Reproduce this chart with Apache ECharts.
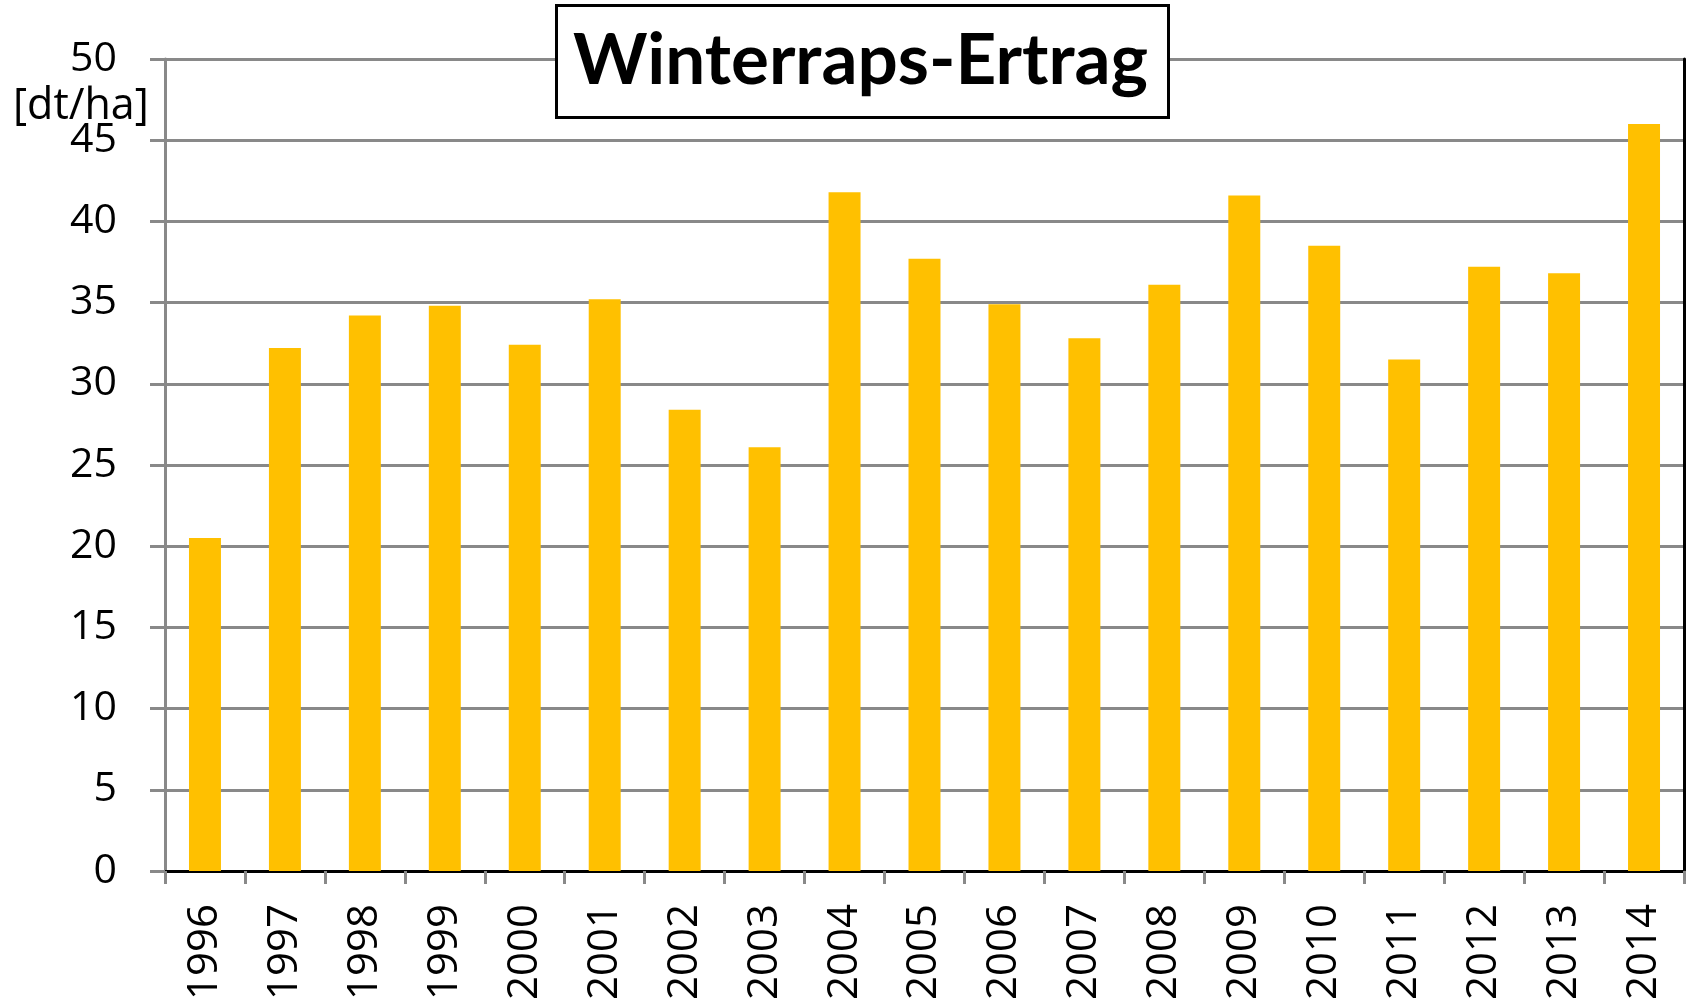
<!DOCTYPE html>
<html>
<head>
<meta charset="utf-8">
<script src="https://cdn.jsdelivr.net/npm/echarts@6/dist/echarts.min.js"></script>
<style>
html,body{margin:0;padding:0;background:#fff;}
#chart{width:1688px;height:1006px;}
</style>
</head>
<body>
<div id="chart"></div>
<script>
const titleText = 'Winterraps-Ertrag';
const unitText = '[dt/ha]';
const years = ['1996','1997','1998','1999','2000','2001','2002','2003','2004','2005','2006','2007','2008','2009','2010','2011','2012','2013','2014'];
const yields = [20.5, 32.2, 34.2, 34.8, 32.4, 35.2, 28.4, 26.1, 41.8, 37.7, 34.9, 32.8, 36.1, 41.6, 38.5, 31.5, 37.2, 36.8, 46.0];
const yMin = 0, yMax = 50, yStep = 5;

const FONT = '"Open Sans", "Noto Sans", sans-serif';
const GRAY = '#898989';

const chart = echarts.init(document.getElementById('chart'), null, {renderer: 'canvas'});
chart.setOption({
  backgroundColor: '#ffffff',
  animation: false,
  title: {
    text: titleText,
    left: 556,
    top: 5,
    padding: [15, 21, 16, 17],
    backgroundColor: '#ffffff',
    borderColor: '#000000',
    borderWidth: 3,
    z: 20,
    textStyle: {
      fontFamily: 'Lato, "Open Sans", sans-serif',
      fontWeight: 'bold',
      fontSize: 71,
      color: '#000000',
      lineHeight: 82
    }
  },
  graphic: [{
    type: 'text',
    left: 13,
    top: 85,
    z: 10,
    style: {
      text: unitText,
      font: '43px ' + FONT,
      fill: '#000000'
    }
  }],
  grid: {
    left: 165,
    right: 4,
    top: 59,
    bottom: 135,
    containLabel: false
  },
  xAxis: [{
    type: 'category',
    data: years,
    position: 'bottom',
    boundaryGap: true,
    axisLine: {show: true, lineStyle: {color: GRAY, width: 3}},
    axisTick: {show: true, alignWithLabel: false, length: 13, lineStyle: {color: GRAY, width: 3}},
    axisLabel: {
      rotate: 90,
      margin: 33,
      interval: 0,
      fontFamily: FONT,
      fontSize: 42,
      color: '#000000'
    },
    splitLine: {show: false}
  }, {
    type: 'category',
    data: years,
    position: 'top',
    axisLine: {show: true, lineStyle: {color: '#000000', width: 3}},
    axisTick: {show: false},
    axisLabel: {show: false},
    splitLine: {show: false}
  }],
  yAxis: [{
    type: 'value',
    min: yMin,
    max: yMax,
    interval: yStep,
    position: 'left',
    axisLine: {show: true, onZero: false, lineStyle: {color: GRAY, width: 3}},
    axisTick: {show: true, length: 15, lineStyle: {color: GRAY, width: 3}},
    axisLabel: {
      margin: 48,
      fontFamily: FONT,
      fontSize: 41,
      color: '#000000'
    },
    splitLine: {show: true, lineStyle: {color: GRAY, width: 3}}
  }, {
    type: 'value',
    min: yMin,
    max: yMax,
    interval: yStep,
    position: 'right',
    axisLine: {show: true, lineStyle: {color: '#000000', width: 3}},
    axisTick: {show: false},
    axisLabel: {show: false},
    splitLine: {show: false}
  }],
  series: [{
    type: 'bar',
    data: yields,
    xAxisIndex: 0,
    yAxisIndex: 0,
    barCategoryGap: '60%',
    itemStyle: {color: '#FFC000'}
  }]
});
</script>
</body>
</html>
